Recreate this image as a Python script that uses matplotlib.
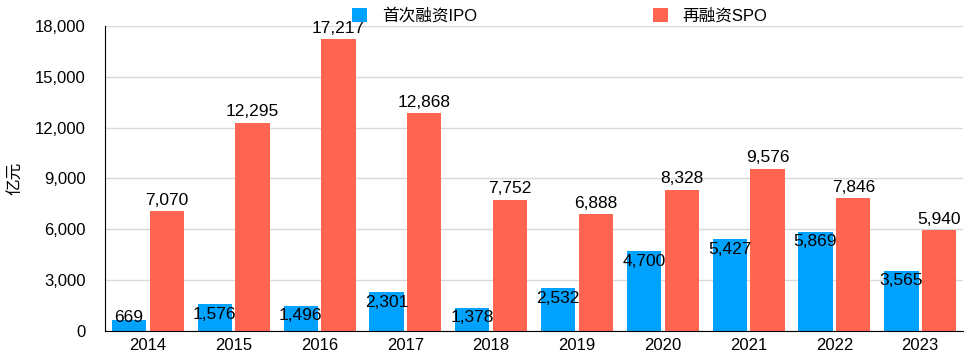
import numpy as np
import matplotlib.pyplot as plt
from matplotlib.ticker import FuncFormatter

plt.rcParams['font.family'] = ['Liberation Sans', 'Noto Sans CJK SC']
plt.rcParams['font.size'] = 12

years = ['2014', '2015', '2016', '2017', '2018', '2019', '2020', '2021', '2022', '2023']
ipo = [669, 1576, 1496, 2301, 1378, 2532, 4700, 5427, 5869, 3565]
spo = [7070, 12295, 17217, 12868, 7752, 6888, 8328, 9576, 7846, 5940]

blue = '#00A2FF'
red = '#FF6550'

fig = plt.figure(figsize=(9.67, 3.59), dpi=100)
ax = fig.add_axes([0.1086, 0.078, 0.8874, 0.8496])

x = np.arange(len(years))
w = 0.4
b1 = ax.bar(x - 0.22, ipo, w, color=blue, label='首次融资IPO', zorder=2)
b2 = ax.bar(x + 0.22, spo, w, color=red, label='再融资SPO', zorder=2)

# 数值标签: IPO在柱内顶部, SPO在柱上方
for xi, v in zip(x, ipo):
    ax.text(xi - 0.22, max(v - 150, 1240), f'{v:,}', ha='center', va='top', fontsize=12.5, zorder=3)
for xi, v in zip(x, spo):
    ax.text(xi + 0.22, v + 200, f'{v:,}', ha='center', va='bottom', fontsize=12.5, zorder=3)

ax.set_xlim(-0.5, 9.5)
ax.set_ylim(0, 18000)
ax.set_yticks(np.arange(0, 18001, 3000))
ax.yaxis.set_major_formatter(FuncFormatter(lambda v, p: f'{int(v):,}'))
ax.set_xticks(x)
ax.set_xticklabels(years)
ax.tick_params(axis='both', length=0, labelsize=12)
ax.tick_params(axis='x', pad=5)
ax.tick_params(axis='y', pad=14)
ax.grid(axis='y', color='#d9d9d9', linewidth=1, zorder=0)
ax.spines['top'].set_visible(False)
ax.spines['right'].set_visible(False)
ax.spines['left'].set_color('black')
ax.spines['bottom'].set_color('black')
ax.set_ylabel('亿元', fontsize=12, labelpad=8)

fig.legend(handles=[b1, b2], loc='upper center', bbox_to_anchor=(0.579, 1.02), ncol=2,
           frameon=False, fontsize=12, columnspacing=10.5, handlelength=0.9, handleheight=0.9,
           handletextpad=0.9)

fig.savefig('out.png', dpi=100)
